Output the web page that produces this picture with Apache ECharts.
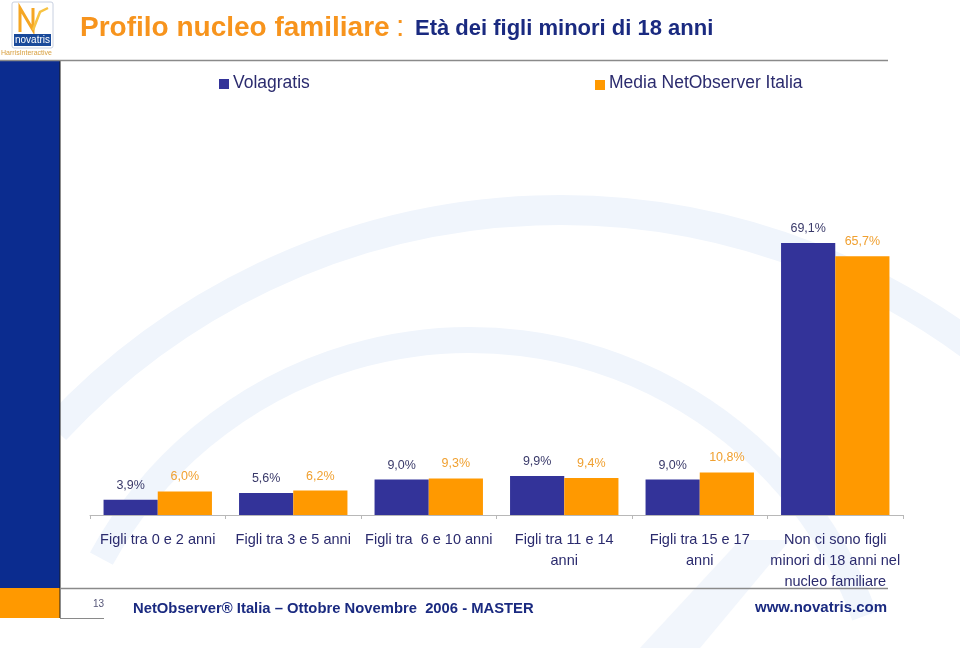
<!DOCTYPE html>
<html>
<head>
<meta charset="utf-8">
<script src="https://cdn.jsdelivr.net/npm/echarts@6/dist/echarts.min.js"></script>
<style>
html,body{margin:0;padding:0;background:#fff;}
#c{width:960px;height:648px;}
</style>
</head>
<body>
<div id="c"></div>
<script>
const categories = [
  "Figli tra 0 e 2 anni",
  "Figli tra 3 e 5 anni",
  "Figli tra  6 e 10 anni",
  "Figli tra 11 e 14\nanni",
  "Figli tra 15 e 17\nanni",
  "Non ci sono figli\nminori di 18 anni nel\nnucleo familiare"
];
const volagratis = [3.9, 5.6, 9.0, 9.9, 9.0, 69.1];
const mediaNetObserver = [6.0, 6.2, 9.3, 9.4, 10.8, 65.7];
const seriesNames = ["Volagratis", "Media NetObserver Italia"];

const chart = echarts.init(document.getElementById('c'), null, {renderer: 'canvas'});
const fmt = p => p.value.toFixed(1).replace('.', ',') + '%';
const font = 'Arial, "Liberation Sans", sans-serif';

const option = {
  backgroundColor: '#ffffff',
  animation: false,
  textStyle: {fontFamily: font},
  grid: {left: 90, right: 57, top: 200, bottom: 133},
  legend: {show: false},
  xAxis: {
    type: 'category',
    data: categories,
    axisLine: {lineStyle: {color: '#b8b8b8', width: 1}},
    axisTick: {show: true, length: 4, lineStyle: {color: '#b8b8b8'}},
    axisLabel: {color: '#2b2b6e', fontSize: 14.5, lineHeight: 21, margin: 14, interval: 0, fontFamily: font}
  },
  yAxis: {
    type: 'value', min: 0, max: 80, show: false,
    splitLine: {show: false}
  },
  series: [
    {
      name: seriesNames[0], type: 'bar', data: volagratis, barGap: '0%', barCategoryGap: '20%',
      itemStyle: {color: '#333399'},
      label: {show: true, position: 'top', distance: 8, formatter: fmt, color: '#3a3a6a', fontSize: 12.5, fontFamily: font},
      z: 3
    },
    {
      name: seriesNames[1], type: 'bar', data: mediaNetObserver,
      itemStyle: {color: '#ff9900'},
      label: {show: true, position: 'top', distance: 8, formatter: fmt, color: '#f0a030', fontSize: 12.5, fontFamily: font},
      z: 3
    }
  ],
  graphic: [
    // faint background swooshes
    {type: 'arc', z: -10, silent: true, shape: {cx: 560, cy: 900, r: 690, startAngle: Math.PI + 0.75, endAngle: 2 * Math.PI + 0.45, clockwise: true},
     style: {stroke: '#f0f5fc', lineWidth: 30, fill: null}},
    {type: 'arc', z: -10, silent: true, shape: {cx: 470, cy: 760, r: 420, startAngle: Math.PI + 0.5, endAngle: 2 * Math.PI - 0.35, clockwise: true},
     style: {stroke: '#f0f5fc', lineWidth: 26, fill: null}},
    {type: 'polygon', z: -10, silent: true, shape: {points: [[640, 648], [700, 648], [790, 540], [740, 540]]},
     style: {fill: '#f2f6fc'}},
    // left stripe
    {type: 'rect', z: 1, silent: true, shape: {x: 0, y: 60, width: 60, height: 528}, style: {fill: '#0b2c8f'}},
    {type: 'rect', z: 1, silent: true, shape: {x: 0, y: 588, width: 60, height: 30}, style: {fill: '#ff9900'}},
    {type: 'line', z: 1, silent: true, shape: {x1: 60, y1: 60, x2: 60, y2: 618}, style: {stroke: '#1a1a1a', lineWidth: 1}},
    // horizontal rules
    {type: 'line', z: 1, silent: true, shape: {x1: 0, y1: 60.5, x2: 888, y2: 60.5}, style: {stroke: '#8a8a8a', lineWidth: 1.5}},
    {type: 'line', z: 1, silent: true, shape: {x1: 60, y1: 588.5, x2: 888, y2: 588.5}, style: {stroke: '#8a8a8a', lineWidth: 1.5}},
    {type: 'line', z: 1, silent: true, shape: {x1: 60, y1: 618.5, x2: 104, y2: 618.5}, style: {stroke: '#8a8a8a', lineWidth: 1}},
    // logo
    {type: 'rect', z: 1, silent: true, shape: {x: 12, y: 2, width: 41, height: 46, r: 2}, style: {fill: '#ffffff', stroke: '#c8d0e0', lineWidth: 1}},
    {type: 'polyline', z: 2, silent: true, shape: {points: [[20, 32], [20, 8], [33, 30], [33, 8]]}, style: {stroke: '#f5a623', lineWidth: 3, fill: null}},
    {type: 'polyline', z: 2, silent: true, shape: {points: [[33, 30], [40, 12], [48, 8]]}, style: {stroke: '#f7c343', lineWidth: 2.5, fill: null}},
    {type: 'rect', z: 2, silent: true, shape: {x: 14, y: 34, width: 37, height: 12}, style: {fill: '#1a4a9a'}},
    {type: 'text', z: 3, silent: true, x: 32.5, y: 40, style: {text: 'novatris', fill: '#ffffff', fontSize: 10, fontFamily: font, align: 'center', verticalAlign: 'middle'}},
    {type: 'text', z: 3, silent: true, x: 1, y: 53, style: {text: 'HarrisInteractive', fill: '#d8a040', fontSize: 7, fontFamily: font, verticalAlign: 'middle'}},
    // title
    {type: 'text', z: 3, silent: true, x: 80, y: 28, style: {text: 'Profilo nucleo familiare', fill: '#f7941d', fontSize: 28, fontWeight: 'bold', fontFamily: font, verticalAlign: 'middle'}},
    {type: 'text', z: 3, silent: true, x: 396, y: 28, style: {text: ':', fill: '#f7941d', fontSize: 30, fontFamily: font, verticalAlign: 'middle'}},
    {type: 'text', z: 3, silent: true, x: 415, y: 29, style: {text: 'Età dei figli minori di 18 anni', fill: '#1a2a80', fontSize: 22, fontWeight: 'bold', fontFamily: font, verticalAlign: 'middle'}},
    // legend
    {type: 'rect', z: 3, silent: true, shape: {x: 219, y: 79, width: 10, height: 10}, style: {fill: '#333399'}},
    {type: 'text', z: 3, silent: true, x: 233, y: 83, style: {text: seriesNames[0], fill: '#2b2b6e', fontSize: 17.5, fontFamily: font, verticalAlign: 'middle'}},
    {type: 'rect', z: 3, silent: true, shape: {x: 595, y: 80, width: 10, height: 10}, style: {fill: '#ff9900'}},
    {type: 'text', z: 3, silent: true, x: 609, y: 83, style: {text: seriesNames[1], fill: '#2b2b6e', fontSize: 17.5, fontFamily: font, verticalAlign: 'middle'}},
    // footer
    {type: 'text', z: 3, silent: true, x: 93, y: 604, style: {text: '13', fill: '#555577', fontSize: 10, fontFamily: font, verticalAlign: 'middle'}},
    {type: 'text', z: 3, silent: true, x: 133, y: 609, style: {text: 'NetObserver® Italia – Ottobre Novembre  2006 - MASTER', fill: '#1a2a80', fontSize: 14.8, fontWeight: 'bold', fontFamily: font, verticalAlign: 'middle'}},
    {type: 'text', z: 3, silent: true, x: 887, y: 608, style: {text: 'www.novatris.com', fill: '#1a2a80', fontSize: 15, fontWeight: 'bold', fontFamily: font, align: 'right', verticalAlign: 'middle'}}
  ]
};
chart.setOption(option);
</script>
</body>
</html>
